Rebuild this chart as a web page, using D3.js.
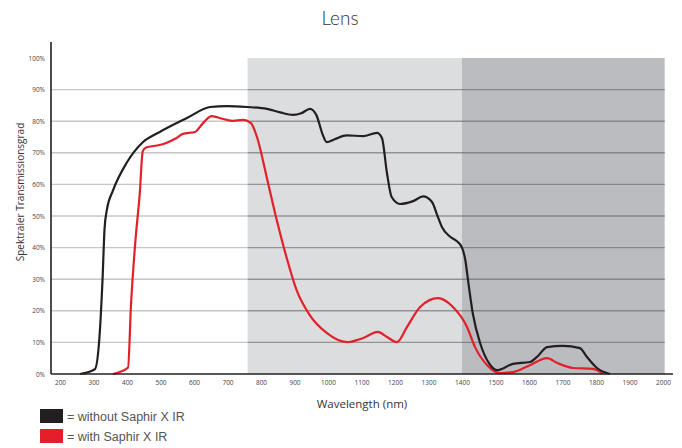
<!DOCTYPE html>
<html>
<head>
<meta charset="utf-8">
<script src="https://cdn.jsdelivr.net/npm/d3@7/dist/d3.min.js"></script>
<style>
  html, body { margin: 0; padding: 0; background: #fff; }
  svg { display: block; font-family: "Open Sans", "Noto Sans", sans-serif; }
</style>
</head>
<body>
<svg id="chart" width="682" height="448"></svg>
<script>
// Spectral transmission (%) against wavelength (nm)
const withoutSaphir = [
  [260, 0], [304, 1.5], [318, 12], [327, 30], [333, 46], [340, 52], [358, 58],
  [400, 67], [448, 73.4], [498, 76.6], [579, 81], [648, 84.5], [698, 84.8],
  [758, 84.5], [818, 83.9], [857, 82.8], [896, 82], [920, 82.5], [946, 83.9],
  [965, 82], [985, 75.5], [996, 73.4], [1020, 74.3], [1056, 75.5], [1105, 75.3],
  [1146, 76.3], [1161, 74.7], [1176, 63.6], [1190, 56], [1215, 53.8], [1254, 54.7],
  [1284, 56.2], [1310, 54.5], [1328, 49.7], [1340, 46.5], [1364, 43.5],
  [1385, 42], [1400, 40], [1410, 36], [1418, 29.7], [1432, 19.3], [1455, 9.5],
  [1480, 3.5], [1504, 1.2], [1552, 3.2], [1603, 3.8], [1624, 5.4], [1654, 8.5],
  [1701, 8.9], [1752, 8.2], [1773, 5.4], [1803, 1.9], [1842, 0]
];
const withSaphir = [
  [358, 0], [403, 2], [412, 22], [425, 42], [438, 57], [447, 70.5], [457, 71.7],
  [490, 72.3], [519, 73.2], [545, 74.5], [567, 76], [603, 76.6], [627, 79.4],
  [653, 81.6], [687, 80.7], [716, 80.1], [746, 80.4], [770, 79.4], [788, 75],
  [817, 62.3], [847, 48.7], [876, 37], [906, 26.6], [945, 18.7], [996, 13],
  [1056, 10.1], [1105, 11.4], [1149, 13.3], [1176, 11.7], [1206, 10.1],
  [1236, 14.9], [1275, 21.2], [1328, 24], [1373, 21.2], [1415, 14.9],
  [1439, 8.5], [1475, 2.8], [1513, 0.3], [1552, 0.6], [1603, 2.8], [1654, 5],
  [1684, 3.5], [1731, 1.9], [1791, 1.6], [1821, 0]
];
// Wavelength bands shaded behind the curves
const bands = [
  { from: 760, to: 1400, fill: "#dcdddf", grid: "#929394" },
  { from: 1400, to: 2005, fill: "#bbbcbf", grid: "#858688" }
];
const xTicks = d3.range(200, 2001, 100);
const yTicks = d3.range(0, 101, 10);
const legendItems = [
  { label: "= without Saphir X IR", color: "#231f20" },
  { label: "= with Saphir X IR", color: "#e3202a" }
];

const svg = d3.select("#chart");
const x = d3.scaleLinear().domain([200, 2000]).range([60, 663]);
const y = d3.scaleLinear().domain([0, 100]).range([374, 58]);
const xLeft = 51, xRight = 673, gridRight = 665;

// Title
svg.append("text").attr("x", 340).attr("y", 25).attr("text-anchor", "middle")
  .attr("font-size", 19).attr("font-weight", 300).attr("fill", "#333")
  .attr("font-family", "Lato, 'Liberation Sans', Arial, sans-serif")
  .text("Lens");

// Shaded bands
svg.selectAll("rect.band").data(bands).join("rect").attr("class", "band")
  .attr("x", d => x(d.from)).attr("y", y(100))
  .attr("width", d => x(d.to) - x(d.from)).attr("height", y(0) - y(100))
  .attr("fill", d => d.fill);

// Gridlines, coloured per band segment
const segs = [{ a: xLeft, b: x(bands[0].from), c: "#c6c6c6" }]
  .concat(bands.map(b => ({ a: x(b.from), b: Math.min(x(b.to), gridRight), c: b.grid })));
yTicks.filter(t => t > 0 && t < 100).forEach(t => {
  segs.forEach(s => {
    svg.append("line").attr("x1", s.a).attr("x2", s.b)
      .attr("y1", y(t)).attr("y2", y(t))
      .attr("stroke", s.c).attr("stroke-width", 1.4);
  });
});

// Axes
const xAxis = svg.append("g").attr("transform", `translate(0,${y(0)})`)
  .call(d3.axisBottom(x).tickValues(xTicks).tickSize(0).tickPadding(6)
    .tickFormat(d3.format("d")));
xAxis.select(".domain").remove();
xAxis.selectAll("text").attr("font-size", 6.5).attr("fill", "#444")
  .attr("font-family", "'Open Sans', sans-serif");
const yAxis = svg.append("g").attr("transform", `translate(${xLeft},0)`)
  .call(d3.axisLeft(y).tickValues(yTicks).tickSize(0).tickPadding(6)
    .tickFormat(d => d + "%"));
yAxis.select(".domain").remove();
yAxis.selectAll("text").attr("font-size", 6.5).attr("fill", "#444")
  .attr("font-family", "'Open Sans', sans-serif");

svg.append("line").attr("x1", xLeft).attr("x2", xLeft).attr("y1", 42).attr("y2", y(0))
  .attr("stroke", "#231f20").attr("stroke-width", 1.6);

// Curves
const line = d3.line().x(d => x(d[0])).y(d => y(d[1])).curve(d3.curveMonotoneX);
svg.append("path").datum(withSaphir).attr("d", line).attr("fill", "none")
  .attr("stroke", legendItems[1].color).attr("stroke-width", 2.2)
  .attr("stroke-linejoin", "round");
svg.append("path").datum(withoutSaphir).attr("d", line).attr("fill", "none")
  .attr("stroke", legendItems[0].color).attr("stroke-width", 2.2)
  .attr("stroke-linejoin", "round");

svg.append("line").attr("x1", xLeft).attr("x2", xRight).attr("y1", y(0)).attr("y2", y(0))
  .attr("stroke", "#231f20").attr("stroke-width", 1.6);

// Axis titles
svg.append("text").attr("x", 362).attr("y", 408).attr("text-anchor", "middle")
  .attr("font-size", 11.5).attr("fill", "#333").text("Wavelength (nm)");
svg.append("text").attr("transform", "translate(24,192) rotate(-90)")
  .attr("text-anchor", "middle").attr("font-size", 10).attr("fill", "#333")
  .text("Spektraler Transmissionsgrad");

// Legend
const lg = svg.selectAll("g.legend").data(legendItems).join("g").attr("class", "legend")
  .attr("transform", (d, i) => `translate(40,${409 + i * 20})`);
lg.append("rect").attr("width", 23).attr("height", 14).attr("fill", d => d.color);
lg.append("text").attr("x", 27).attr("y", 11.5).attr("font-size", 12.5)
  .attr("font-family", "'Liberation Sans', Arial, sans-serif")
  .attr("fill", "#555").text(d => d.label);
</script>
</body>
</html>
